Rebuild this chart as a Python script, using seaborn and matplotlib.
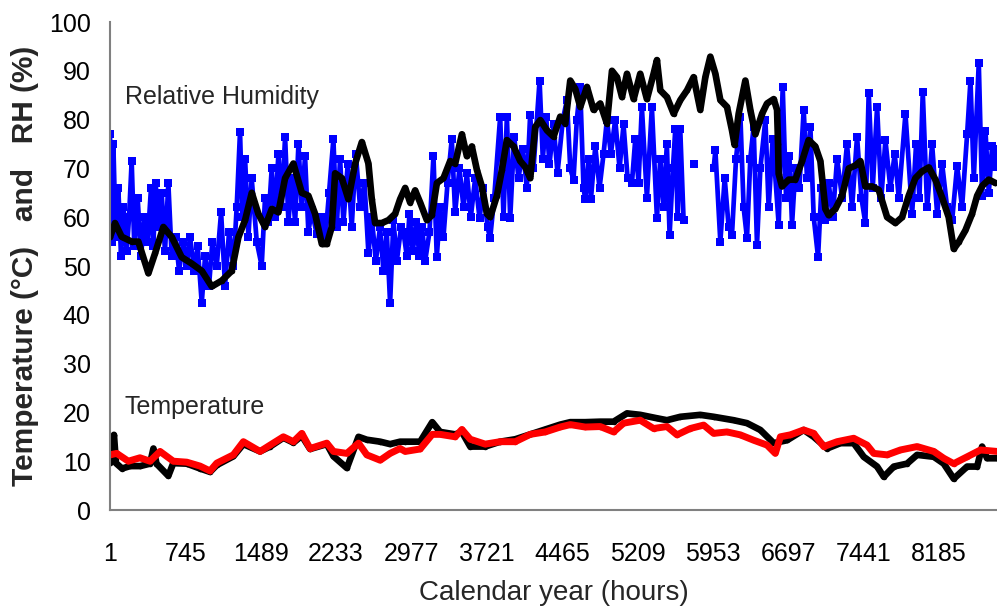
import numpy as np
import pandas as pd
import matplotlib
matplotlib.use("Agg")
import matplotlib.pyplot as plt
import seaborn as sns

# ---------------- data ----------------
rh_black_hours = [1, 50, 116, 215, 281, 380, 446, 528, 611, 709, 808, 907, 1006, 1105, 1203, 1269,
                  1335, 1401, 1466, 1532, 1599, 1664, 1730, 1812, 1895, 1960, 2026, 2093, 2142, 2191,
                  2224, 2290, 2355, 2422, 2488, 2553, 2586, 2619, 2685, 2751, 2817, 2866, 2916, 2965,
                  3014, 3064, 3130, 3179, 3229, 3294, 3360, 3410, 3476, 3525, 3574, 3624, 3673, 3723,
                  3755, 3822, 3871, 3920, 3986, 4052, 4101, 4151, 4200, 4250, 4316, 4381, 4447, 4497,
                  4546, 4595, 4645, 4711, 4776, 4842, 4908, 4958, 5007, 5057, 5106, 5172, 5237, 5303,
                  5369, 5402, 5435, 5501, 5567, 5633, 5699, 5764, 5830, 5880, 5929, 5979, 6028, 6094,
                  6143, 6169, 6209, 6275, 6324, 6374, 6440, 6489, 6555, 6588, 6598, 6604, 6637, 6703,
                  6769, 6835, 6900, 6966, 7016, 7065, 7098, 7164, 7230, 7296, 7362, 7411, 7460, 7527,
                  7592, 7675, 7757, 7823, 7888, 7954, 8020, 8086, 8152, 8218, 8283, 8333, 8382, 8448,
                  8514, 8564, 8613, 8679, 8745]
rh_black = [55.9, 58.8, 56, 55, 55, 48.5, 52.6, 58, 55.9, 51.8, 50.5, 49, 45.8, 47, 49, 55.9,
            59.4, 65, 60.7, 58, 61.7, 61, 68, 71, 65, 64.4, 60.7, 54.5, 54.5, 58,
            69, 68, 63.7, 71, 75.4, 71, 63.7, 58.8, 58.8, 59.4, 60.7, 63.7, 66, 63,
            65.5, 63, 59.4, 60.4, 67, 68, 71.5, 71, 77, 72.5, 74.5, 69.7, 66.3, 60.7,
            60, 64.4, 69.7, 75.8, 74.5, 71.5, 70.3, 68, 78.5, 79.9, 77.8, 76.5, 80.6, 79.2,
            88, 86.3, 82.6, 86.7, 82, 83.3, 79.2, 90, 88.7, 84.6, 89.4, 84.2, 89.4, 84.2,
            89.4, 92.2, 86, 84.6, 81.2, 84, 86, 88.7, 82, 88.7, 92.9, 89.4, 84, 82.6,
            77.8, 74.8, 81.2, 88, 82, 77, 81.2, 83.3, 84.2, 82, 75, 68.9, 66.3, 67.7,
            67.7, 71.5, 75.8, 74.5, 71.5, 61.7, 60.4, 61.7, 64.4, 70, 70.6, 71.5, 66.3, 66.3,
            65.6, 60, 58.8, 60, 64.4, 68, 69.4, 70.2, 67.7, 64, 60, 53.5, 54.9, 57.3,
            60.7, 64.4, 66.4, 67.7, 67]

rh_blue_hours_a = [1, 17, 34, 57, 83, 110, 133, 166, 189, 215, 241, 274, 307, 340, 373, 406, 429, 452,
                   478, 511, 544, 577, 610, 650, 683, 725, 758, 791, 834, 867, 907, 940, 979, 1012,
                   1055, 1098, 1137, 1177, 1219, 1252, 1285, 1308, 1335, 1368, 1400, 1450, 1499, 1532,
                   1565, 1598, 1631, 1664, 1697, 1730, 1763, 1796, 1829, 1862, 1894, 1927, 1960, 1993,
                   2043, 2092, 2125, 2164, 2207, 2240, 2273, 2306, 2349, 2388, 2428, 2471, 2514, 2553,
                   2586, 2626, 2668, 2701, 2734, 2767, 2800, 2833, 2876, 2899, 2932, 2958, 2991, 3024,
                   3057, 3083, 3113, 3156, 3195, 3228, 3261, 3294, 3334, 3376, 3409, 3452, 3492, 3525,
                   3564, 3607, 3650, 3689, 3729, 3755, 3795, 3854, 3887, 3920, 3953, 3992, 4035, 4078,
                   4117, 4150, 4183, 4243, 4275, 4308, 4341, 4381, 4420, 4473, 4513, 4546, 4578, 4611,
                   4644, 4677, 4694, 4727, 4750, 4793, 4835, 4875, 4908, 4947, 4990, 5033, 5072, 5112,
                   5155, 5188, 5220, 5253, 5303, 5352, 5402, 5435, 5468, 5500, 5527, 5560, 5583, 5606,
                   5632, 5665]
rh_blue_a = [77, 55, 75, 56, 66, 52, 62, 53, 60, 71.5, 54, 64, 52, 60, 55, 66, 54, 67,
             58, 65, 53, 67, 52, 56, 49, 55, 50, 56, 49, 54, 42.4, 52, 46, 55,
             50, 61, 46, 57, 50, 62, 77.5, 60, 72, 56, 68, 55, 50, 64,
             59, 70, 60, 73, 62, 76.5, 59, 68, 59, 75, 62, 72.5, 57, 61.5,
             56.5, 60, 55, 65, 76, 58, 72, 59, 71, 58, 73, 62, 67, 52.6,
             60, 51, 58, 49, 57, 42.4, 59.4, 51, 58, 57, 52, 60.7, 53, 59,
             52, 58, 51, 57, 72.5, 51.8, 62, 56, 67, 76, 61, 70, 62, 69,
             60, 68, 59.8, 66, 58, 55.7, 64, 80.6, 60, 80.6, 59.8, 76.5, 68, 74,
             66, 81, 70, 88, 72, 80.6, 70.9, 79, 69, 80, 84, 70, 67.7, 80,
             86.7, 66, 63.7, 72, 63.7, 74.5, 66, 73, 80, 73, 80, 70, 79, 68,
             67, 76, 67, 82.6, 64, 82.6, 59.8, 72, 62, 75, 56.4, 70, 78, 60,
             78, 59.4]
rh_blue_single_hour = [5770]
rh_blue_single = [71]
rh_blue_hours_b = [5962, 5979, 6028, 6071, 6110, 6143, 6183, 6226, 6258, 6291, 6324, 6357, 6390,
                   6423, 6473, 6505, 6545, 6604, 6644, 6677, 6710, 6736, 6769, 6808, 6851, 6884,
                   6917, 6950, 6993, 7026, 7065, 7098, 7138, 7181, 7230, 7279, 7329, 7378, 7421,
                   7460, 7493, 7533, 7576, 7618, 7658, 7707, 7750, 7790, 7856, 7922, 7961, 7994,
                   8027, 8070, 8119, 8169, 8218, 8267, 8317, 8366, 8415, 8465, 8498, 8531, 8580,
                   8613, 8646, 8679, 8712, 8745, 8760]
rh_blue_b = [70, 73.7, 55, 68, 58, 56.4, 72, 80.6, 62, 55.7, 72, 78.5, 54.4,
             70, 80, 62, 76, 58.5, 86.7, 64, 72.5, 58.5, 70, 66, 82, 68,
             78.5, 60, 51.8, 66, 59.4, 67, 60, 72, 64, 75, 62, 76.5, 64,
             58.8, 85.4, 66, 82.6, 64, 75.8, 66, 73, 64, 81.2, 60.7, 75, 64,
             85.6, 62, 75, 60.7, 71, 62, 59.4, 70.5, 62, 77, 88, 68, 91.6,
             64.4, 77.7, 65, 74.5, 70.3, 74]

t_red_hours = [1, 67, 182, 297, 396, 495, 626, 759, 890, 989, 1055, 1219, 1318, 1483, 1582, 1713,
               1812, 1895, 1977, 2142, 2208, 2340, 2455, 2537, 2669, 2767, 2866, 2916, 3064, 3183,
               3261, 3410, 3476, 3558, 3706, 3854, 4003, 4151, 4299, 4447, 4546, 4694, 4842, 4974,
               5073, 5237, 5369, 5501, 5600, 5731, 5863, 5962, 6094, 6225, 6357, 6489, 6571, 6621,
               6719, 6851, 6950, 7049, 7181, 7345, 7477, 7543, 7675, 7806, 7971, 8136, 8234, 8333,
               8465, 8597, 8760]
t_red = [11.3, 11.6, 10, 10.7, 10, 12, 10, 9.8, 9, 8, 9.6, 11.3, 14, 12, 13.3, 15,
         14, 15.7, 12.6, 13.7, 12, 11.6, 13.7, 11.3, 10.2, 11.6, 12.6, 12, 12.5, 15.5,
         15.5, 15, 16.5, 14.5, 13.5, 14, 14, 15.5, 16, 17, 17.5, 17, 17.1, 16,
         17.8, 18.4, 16.7, 17.1, 15.4, 16.7, 17.4, 15.7, 16, 15.4, 14.3, 13.3, 11.6, 15,
         15.4, 16.4, 15.7, 13, 14, 14.7, 13.3, 11.6, 11.3, 12.3, 13, 12, 10.6, 9.5,
         10.9, 12.3, 12]

t_black_hours = [1, 40, 60, 120, 200, 300, 396, 430, 460, 577, 626, 759, 890, 989, 1055, 1219,
                 1318, 1483, 1582, 1713, 1812, 1895, 1977, 2142, 2208, 2340, 2455, 2537, 2669,
                 2767, 2866, 2916, 3064, 3183, 3261, 3410, 3476, 3558, 3706, 3854, 4003, 4151,
                 4299, 4447, 4546, 4694, 4842, 4974, 5106, 5237, 5402, 5501, 5633, 5830, 5962,
                 6159, 6291, 6423, 6555, 6687, 6851, 6950, 7082, 7214, 7345, 7444, 7576, 7642,
                 7741, 7872, 7971, 8136, 8234, 8333, 8465, 8564, 8613, 8662, 8760]
t_black = [9.6, 15.4, 9.6, 8.5, 9, 9, 9.5, 12.6, 9.5, 7, 9.6, 9.5, 8.5, 7.8, 9.2, 11,
           13.5, 12, 13, 14.8, 13.8, 15.2, 12.5, 13.5, 11, 8.6, 15, 14.4, 14,
           13.5, 14, 14, 14, 18, 16, 15.5, 16, 13, 13, 14, 14.5, 15.5,
           16.5, 17.5, 18, 18, 18.1, 18.1, 19.8, 19.5, 18.8, 18.4, 19.1, 19.5, 19.1,
           18.4, 17.8, 16.4, 13.7, 14.3, 16.4, 15, 12.6, 13.7, 13.7, 10.9, 8.9, 6.8,
           8.9, 9.5, 11.3, 10.9, 9.5, 6.4, 8.9, 8.9, 13, 10.6, 10.6]

x_ticks = [1, 745, 1489, 2233, 2977, 3721, 4465, 5209, 5953, 6697, 7441, 8185]
y_ticks = [0, 10, 20, 30, 40, 50, 60, 70, 80, 90, 100]

# ---------------- plot ----------------
sns.set_theme(style="white")
plt.rcParams["font.family"] = ["Liberation Sans", "DejaVu Sans"]

fig = plt.figure(figsize=(9.97, 6.08), dpi=100)
ax = fig.add_axes([110 / 997, 98 / 608, 887 / 997, 488 / 608])

blue = "#0000ff"
sns.lineplot(x=rh_blue_hours_a, y=rh_blue_a, ax=ax, sort=False, estimator=None,
             color=blue, lw=3.4, marker="s", markersize=5.5, markeredgewidth=0)
sns.lineplot(x=rh_blue_hours_b, y=rh_blue_b, ax=ax, sort=False, estimator=None,
             color=blue, lw=3.4, marker="s", markersize=5.5, markeredgewidth=0)
sns.scatterplot(x=rh_blue_single_hour, y=rh_blue_single, ax=ax, color=blue,
                marker="s", s=30, linewidth=0)
sns.lineplot(x=rh_black_hours, y=rh_black, ax=ax, sort=False, estimator=None,
             color="black", lw=4.8, marker="o", markersize=4, markeredgewidth=0)
sns.lineplot(x=t_black_hours, y=t_black, ax=ax, sort=False, estimator=None,
             color="black", lw=4.8, marker="o", markersize=4, markeredgewidth=0)
sns.lineplot(x=t_red_hours, y=t_red, ax=ax, sort=False, estimator=None,
             color="#ff0000", lw=5.0, marker="o", markersize=4, markeredgewidth=0)

ax.set_xlim(1, 8760)
ax.set_ylim(0, 100)
ax.set_xticks(x_ticks)
ax.set_xticklabels([str(t) for t in x_ticks])
ax.set_yticks(y_ticks)

for s in ["top", "right"]:
    ax.spines[s].set_visible(False)
for s in ["left", "bottom"]:
    ax.spines[s].set_color("#808080")
    ax.spines[s].set_linewidth(1.5)
ax.tick_params(axis="both", which="major", direction="out", length=7, width=1.2,
               color="#808080", labelsize=18, labelcolor="black")
ax.tick_params(axis="x", pad=16)
ax.tick_params(axis="y", pad=7)
ax.grid(False)

ax.set_xlabel("Calendar year (hours)", fontsize=20, labelpad=10)
ax.set_ylabel("Temperature (°C)   and   RH (%)", fontsize=21.5, fontweight="bold", labelpad=7)

ax.text(148, 84.6, "Relative Humidity", fontsize=18, ha="left", va="center")
ax.text(148, 21.1, "Temperature", fontsize=18, ha="left", va="center")

fig.savefig("out.png", dpi=100)
